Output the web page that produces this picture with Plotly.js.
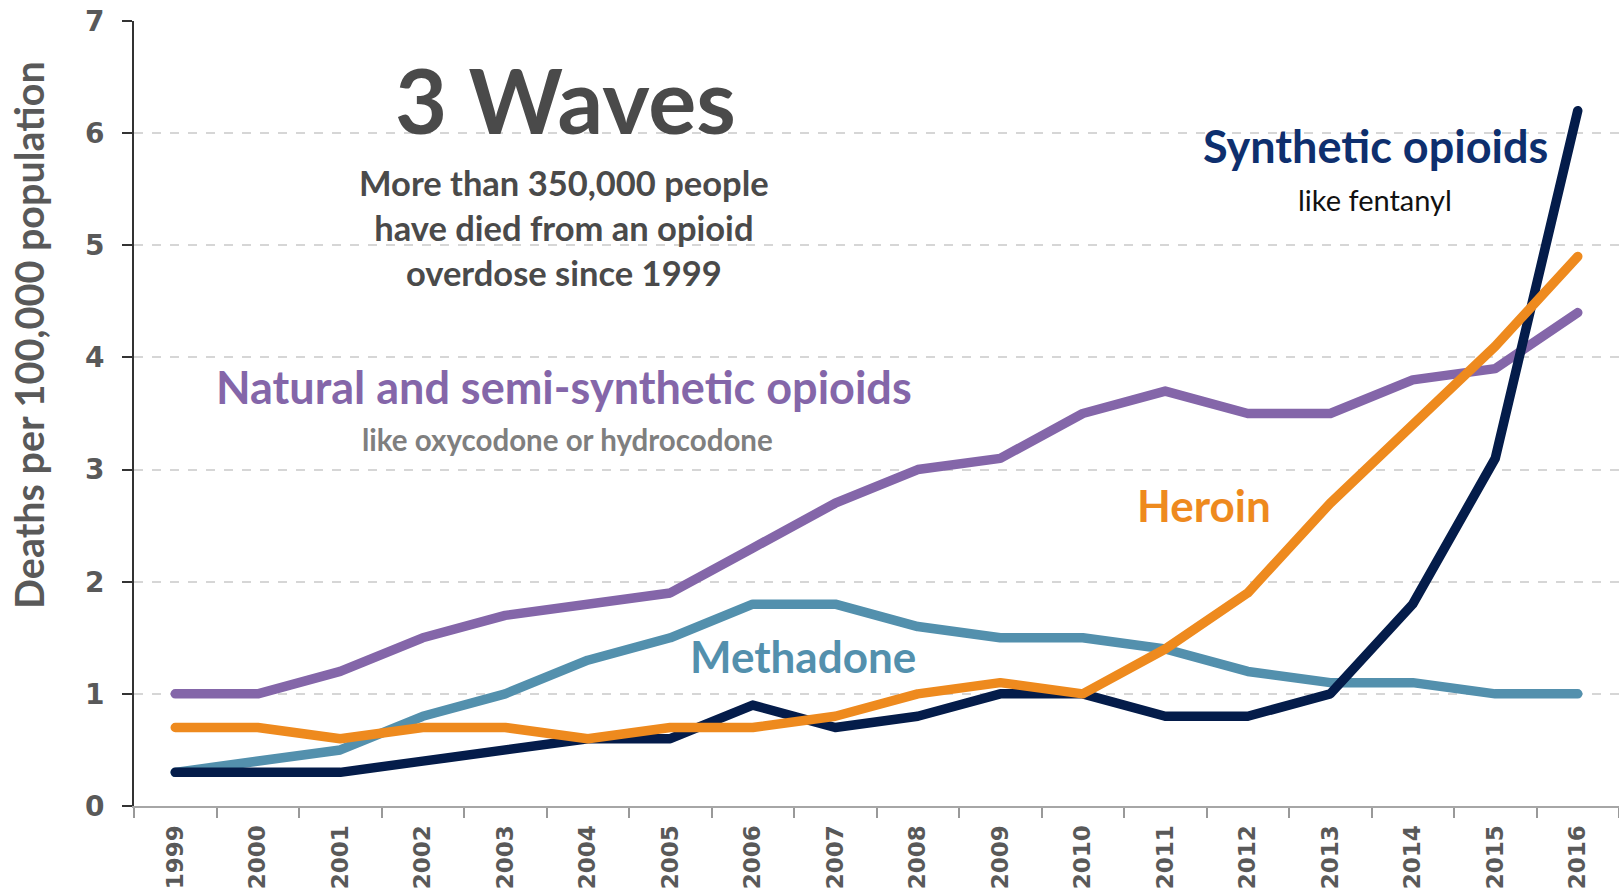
<!DOCTYPE html>
<html>
<head>
<meta charset="utf-8">
<script src="https://cdn.plot.ly/plotly-3.0.1.min.js"></script>
<style>
  html, body { margin: 0; padding: 0; background: #fff; }
  #chart { width: 1619px; height: 893px; }
  .scatterlayer .js-line { stroke-linejoin: round; stroke-linecap: round; }
</style>
</head>
<body>
<div id="chart"></div>
<script>
// ---- Data (deaths per 100,000 population) ----
const years = ["1999","2000","2001","2002","2003","2004","2005","2006","2007","2008","2009","2010","2011","2012","2013","2014","2015","2016"];
const natural   = [1.0, 1.0, 1.2, 1.5, 1.7, 1.8, 1.9, 2.3, 2.7, 3.0, 3.1, 3.5, 3.7, 3.5, 3.5, 3.8, 3.9, 4.4];
const methadone = [0.3, 0.4, 0.5, 0.8, 1.0, 1.3, 1.5, 1.8, 1.8, 1.6, 1.5, 1.5, 1.4, 1.2, 1.1, 1.1, 1.0, 1.0];
const synthetic = [0.3, 0.3, 0.3, 0.4, 0.5, 0.6, 0.6, 0.9, 0.7, 0.8, 1.0, 1.0, 0.8, 0.8, 1.0, 1.8, 3.1, 6.2];
const heroin    = [0.7, 0.7, 0.6, 0.7, 0.7, 0.6, 0.7, 0.7, 0.8, 1.0, 1.1, 1.0, 1.4, 1.9, 2.7, 3.4, 4.1, 4.9];
const yTicks = [0, 1, 2, 3, 4, 5, 6, 7];

// ---- Layout geometry ----
const W = 1619, H = 893;
const M = { l: 134, r: 0, t: 21, b: 87 };
const plotW = W - M.l - M.r, plotH = H - M.t - M.b;
const px = x => (x - M.l) / plotW;
const py = y => (H - M.b - y) / plotH;

const C = {
  purple: "#8466A9",
  teal: "#5390AD",
  orange: "#EE8A1E",
  navy: "#041C4A",
  synthText: "#0E2F6E",
  gray: "#4A4A4A",
  axisText: "#595959"
};

function line(y, color, name) {
  return { x: years, y: y, name: name, type: "scatter", mode: "lines",
           line: { color: color, width: 9.5 }, hoverinfo: "x+y+name" };
}

const traces = [
  line(natural, C.purple, "Natural and semi-synthetic opioids"),
  line(methadone, C.teal, "Methadone"),
  line(synthetic, C.navy, "Synthetic opioids"),
  line(heroin, C.orange, "Heroin")
];

function ann(text, cx, cy, size, color, weight, extra) {
  return Object.assign({
    text: text, xref: "paper", yref: "paper", x: px(cx), y: py(cy),
    xanchor: "center", yanchor: "middle", showarrow: false,
    font: { family: "Lato, sans-serif", size: size, color: color, weight: weight }
  }, extra || {});
}

const annotations = [
  ann("3 Waves", 565, 99, 90, C.gray, 700),
  ann("More than 350,000 people<br>have died from an opioid<br>overdose since 1999", 564, 227, 34.5, C.gray, 700),
  ann("Natural and semi-synthetic opioids", 564, 387, 45, C.purple, 700),
  ann("like oxycodone or hydrocodone", 567, 439, 29.5, "#7F7F7F", 700),
  ann("Synthetic opioids", 1375, 146, 45, C.synthText, 700),
  ann("like fentanyl", 1375, 200, 29, "#111111", 400),
  ann("Heroin", 1204, 505, 44, C.orange, 700),
  ann("Methadone", 803, 656, 44, C.teal, 700),
  ann("Deaths per 100,000 population", 28, 335, 39.5, "#595959", 700, { textangle: -90 })
];

const layout = {
  width: W, height: H,
  margin: M,
  paper_bgcolor: "#ffffff", plot_bgcolor: "#ffffff",
  showlegend: false,
  xaxis: {
    type: "category",
    range: [-0.5, years.length - 0.5],
    tickson: "boundaries",
    ticks: "outside", ticklen: 10, tickwidth: 2, tickcolor: "#999999",
    showline: true, linecolor: "#A6A6A6", linewidth: 2,
    showgrid: false, zeroline: false,
    tickangle: -90,
    ticklabelstandoff: 8,
    tickfont: { family: "DejaVu Sans, sans-serif", size: 23, color: C.axisText, weight: 700 },
    fixedrange: true
  },
  yaxis: {
    range: [0, 7],
    tickvals: yTicks,
    ticktext: yTicks.map(String),
    ticks: "outside", ticklen: 10, tickwidth: 2, tickcolor: "#333333",
    showline: true, linecolor: "#333333", linewidth: 2,
    showgrid: true, gridcolor: "#D6D6D6", gridwidth: 1.5, griddash: "dash",
    zeroline: false,
    ticklabelstandoff: 12,
    tickfont: { family: "DejaVu Sans, sans-serif", size: 28, color: C.axisText, weight: 700 },
    fixedrange: true
  },
  annotations: annotations
};

Plotly.newPlot("chart", traces, layout, { displayModeBar: false, staticPlot: false });
</script>
</body>
</html>
